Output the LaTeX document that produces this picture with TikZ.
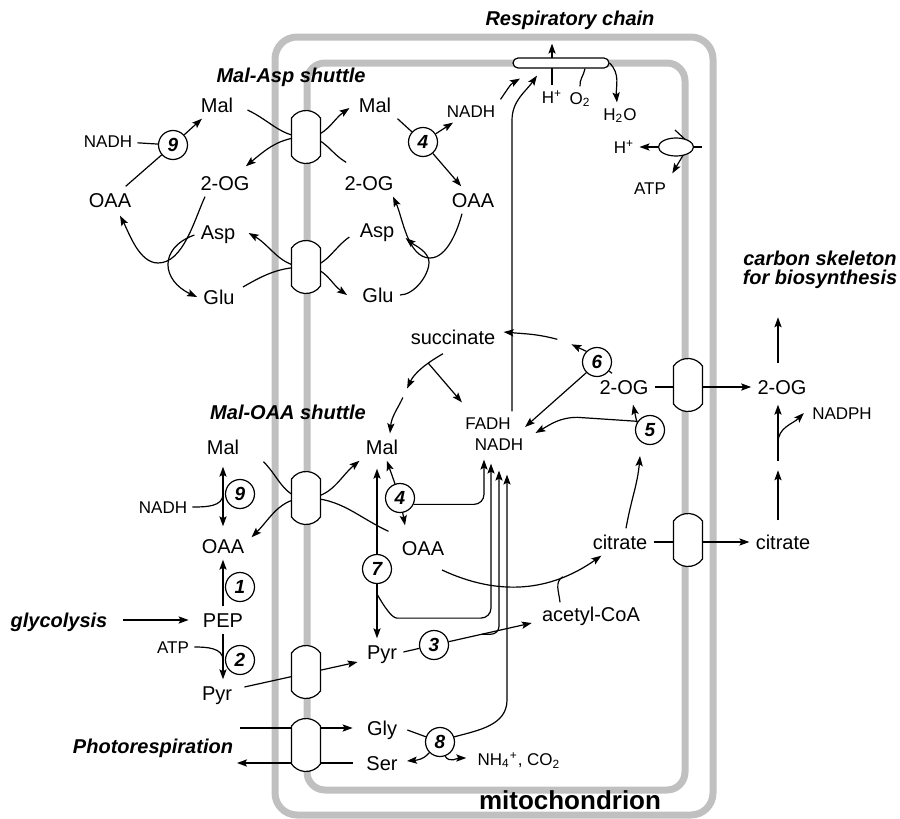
\documentclass[tikz,border=0pt]{standalone}
\usepackage{fontspec}
\setmainfont{Liberation Sans}
\usepackage{tikz}
\usetikzlibrary{arrows.meta,shapes.geometric,shapes.misc,backgrounds}
\definecolor{MembraneGray}{RGB}{192,192,192}

\tikzset{
  capline/.style={text height=7.3pt,text depth=0pt},
  metab/.style={capline,inner sep=3pt,font=\fontsize{10}{12}\selectfont},
  cofac/.style={text height=6.2pt,text depth=0pt,inner sep=2.5pt,font=\fontsize{8.5}{10}\selectfont},
  heading/.style={inner sep=1pt,font=\fontsize{10}{9.5}\selectfont\bfseries\itshape},
  enzyme/.style={circle,draw,fill=white,line width=0.6pt,minimum size=14.5pt,inner sep=0pt,
    font=\fontsize{9.5}{10}\selectfont\bfseries\itshape},
  carrier/.style={rounded rectangle,rounded rectangle arc length=110,rotate=90,draw,fill=white,
    line width=0.6pt,minimum width=26.5pt,minimum height=14.5pt,inner sep=0pt},
  membrane/.style={draw=MembraneGray,line width=3.5pt},
  flow/.style={line width=0.6pt,-{Stealth[length=5pt,width=3.6pt,inset=1pt]}},
  flowboth/.style={line width=0.6pt,{Stealth[length=5pt,width=3.6pt,inset=1pt]}-{Stealth[length=5pt,width=3.6pt,inset=1pt]}},
  link/.style={line width=0.6pt}
}

\begin{document}
\begin{tikzpicture}[x=0.5pt,y=-0.5pt]
      \useasboundingbox (0,0) rectangle (900,819);

      \node[heading,capline] (respTitle) at (570,18) {Respiratory chain};
      \node[heading,capline] (masTitle) at (291,75) {Mal-Asp shuttle};
      \node[heading,capline] (moaTitle) at (288,412) {Mal-OAA shuttle};
      \node[heading,capline] (glycTitle) at (59,620) {glycolysis};
      \node[heading,capline] (photoTitle) at (153,746) {Photorespiration};
      \node[heading,align=center] (skel) at (820,270) {carbon skeleton\\for biosynthesis};
      \node[inner sep=1pt,anchor=base,font=\fontsize{13}{15}\selectfont\bfseries] (mitoTitle) at (570,809) {mitochondrion};

      \node[metab] (malA) at (217,105) {Mal};
      \node[cofac] (nadhA) at (108,141) {NADH};
      \node[metab] (oaaA) at (110,200) {OAA};
      \node[metab] (ogA) at (225,183) {2-OG};
      \node[metab] (aspA) at (218,232) {Asp};
      \node[metab] (gluA) at (219,297) {Glu};
      \node[enzyme] (e9a) at (173,145) {9};

      \node[metab] (malB) at (375,105) {Mal};
      \node[cofac] (nadhB) at (471,111) {NADH};
      \node[metab] (ogB) at (369,183) {2-OG};
      \node[metab] (oaaB) at (473,200) {OAA};
      \node[metab] (aspB) at (377,230) {Asp};
      \node[metab] (gluB) at (378,295) {Glu};
      \node[enzyme] (e4a) at (423,142) {4};

      \node[rounded rectangle,draw,fill=white,line width=0.6pt,minimum width=48pt,
        minimum height=5pt,inner sep=0pt] (rc) at (561,63) {};
      \node[cofac] (hT) at (552,97) {H\textsuperscript{+}};
      \node[cofac] (o2) at (580,98) {O\textsubscript{2}};
      \node[cofac] (h2o) at (620,114) {H\textsubscript{2}O};
      \node[ellipse,draw,fill=white,line width=0.6pt,minimum width=17.5pt,
        minimum height=9pt,inner sep=0pt] (atps) at (676,147) {};
      \node[cofac] (hA) at (624,147) {H\textsuperscript{+}};
      \node[cofac] (atpA) at (650,188) {ATP};

      \node[metab] (malC) at (223,447) {Mal};
      \node[cofac] (nadhC) at (163,507) {NADH};
      \node[metab] (oaaC) at (223,546) {OAA};
      \node[metab] (pep) at (223,620) {PEP};
      \node[cofac] (atpC) at (173,647) {ATP};
      \node[metab] (pyrC) at (217,693) {Pyr};
      \node[enzyme] (e9b) at (240,494) {9};
      \node[enzyme] (e1) at (240,587) {1};
      \node[enzyme] (e2) at (240,660) {2};

      \node[metab] (succ) at (453,337) {succinate};
      \node[cofac] (fadh) at (488,423) {FADH};
      \node[cofac] (nadhM) at (499,444) {NADH};
      \node[metab] (malM) at (382,447) {Mal};
      \node[metab] (oaaM) at (423,548) {OAA};
      \node[metab] (ogM) at (624,387) {2-OG};
      \node[metab] (citM) at (620,542) {citrate};
      \node[metab] (acoa) at (591,614) {acetyl-CoA};
      \node[metab] (pyrM) at (382,652) {Pyr};
      \node[metab] (gly) at (382,728) {Gly};
      \node[metab] (ser) at (382,763) {Ser};
      \node[cofac] (nh4) at (519,759) {NH\textsubscript{4}\textsuperscript{+}, CO\textsubscript{2}};
      \node[enzyme] (e6) at (597,362) {6};
      \node[enzyme] (e5) at (650,430) {5};
      \node[enzyme] (e4b) at (400,498) {4};
      \node[enzyme] (e7) at (377,569) {7};
      \node[enzyme] (e3) at (434,645) {3};
      \node[enzyme] (e8) at (440,742) {8};

      \node[metab] (ogR) at (782,387) {2-OG};
      \node[metab] (citR) at (783,542) {citrate};
      \node[cofac] (nadph) at (842,413) {NADPH};

      \node[carrier] (tMal) at (306,137) {};
      \node[carrier] (tAsp) at (306,267) {};
      \node[carrier] (tOaa) at (306,498) {};
      \node[carrier] (tPyr) at (306,672) {};
      \node[carrier] (tGly) at (306,745) {};
      \node[carrier] (tOg) at (688,385) {};
      \node[carrier] (tCit) at (688,540) {};

      \coordinate (prIn) at (240,728);
      \coordinate (prOut) at (237,763);
      \coordinate (fum) at (405,393);
      \coordinate (nIn1) at ([shift={(-15,4)}]nadhM.south);
      \coordinate (nIn2) at ([shift={(-8,8)}]nadhM.south);
      \coordinate (nIn3) at ([shift={(0,15)}]nadhM.south);
      \coordinate (nIn4) at ([shift={(8,19)}]nadhM.south);

      \begin{scope}[on background layer]
        \draw[membrane,rounded corners=11pt] (275,37) rectangle (713,815);
        \draw[membrane,rounded corners=9pt] (307,63) rectangle (685,790);

        \draw[link] (nadhA) -- (e9a);
        \draw[link] (oaaA) -- (e9a);
        \draw[flow] (e9a) -- (malA);
        \draw[flow] ([shift={(-20,0)}]ogA.south) to[out=-115,in=0,looseness=0.8] (158,263)
          to[out=180,in=-62,looseness=0.8] ([shift={(10,2)}]oaaA.south);
        \draw[flow] ([shift={(0,3)}]aspA.west) to[out=200,in=155,looseness=1.6] (gluA.west);

        \draw[flow] ([shift={(8,5)}]malA.east) to[out=-25,in=180] (tMal.center)
          to[out=0,in=-145] ([shift={(-3,3)}]malB.west);
        \draw[flow] ([shift={(8,-7)}]ogB.north west) to[out=150,in=0] (tMal.center)
          to[out=180,in=40] ([shift={(-10,-3)}]ogA.north east);
        \draw[flow] ([shift={(-4,7)}]aspB.west) to[out=-145,in=0] (tAsp.center)
          to[out=180,in=-30] ([shift={(7,1)}]aspA.east);
        \draw[flow] ([shift={(2,-10)}]gluA.east) to[out=30,in=180] (tAsp.center)
          to[out=0,in=145] ([shift={(-9,0)}]gluB.west);

        \draw[link] (malB.south east) -- (e4a);
        \draw[flow] (e4a) -- (oaaB);
        \draw[flow] (e4a) -- (nadhB);
        \draw[flow] (nadhB.north east) to[out=55,in=210] ([shift={(-41,10)}]rc.south);
        \draw[flow] ([shift={(-11,0)}]oaaB.south) to[out=-105,in=0,looseness=0.8] (430,258)
          to[out=180,in=-65,looseness=0.8] ([shift={(24,0)}]ogB.south);
        \draw[flow] (gluB.east) to[out=0,in=-90,looseness=0.8] (429,262)
          to[out=90,in=-40,looseness=0.8] ([shift={(5,8)}]aspB.east);

        \draw[flow] (hT.north) -- ([shift={(-9,-25)}]rc.south);
        \draw[link] (o2.north) to[out=95,in=-100] ([shift={(24,0)}]rc.south);
        \draw[flow] (rc.east) to[out=-45,in=95] ([shift={(-3,0)}]h2o.north);
        \draw[flow] ([shift={(-4,0)}]fadh.north east) -- ([shift={(-49,52)}]rc.south)
          to[out=90,in=235] ([shift={(-24,7)}]rc.south);
        \draw[flow] (atps.west) -- (hA.east);
        \draw[link] ([shift={(-1,-17)}]atps.center) -- ([shift={(14,-3)}]atps.center);
        \draw[link] (atps.east) -- ++(8,0);
        \draw[flow] ([shift={(9,5)}]atps.center) -- ([shift={(1,-3)}]atpA.north east);

        \draw[flow] ([shift={(18,1)}]malC.south east) to[out=-45,in=180] (tOaa.center)
          to[out=0,in=-140] (malM.south west);
        \draw[flow] ([shift={(-7,-3)}]oaaM.north west) to[out=155,in=0] (tOaa.center)
          to[out=180,in=45] ([shift={(1,5)}]oaaC.north east);
        \draw[flowboth,shorten <=3pt,shorten >=3pt] (malC.south) -- (oaaC.north);
        \draw[link] (nadhC.east) to[out=0,in=-90] (malC |- e9b);
        \draw[flow] (pep.north) -- (oaaC.south);
        \draw[flow] (pep.south) -- (pep.south |- pyrC.north);
        \draw[link] (atpC.east) to[out=0,in=90] (pep |- e2);
        \draw[flow] ([shift={(13,0)}]glycTitle.east) -- ([shift={(-8,0)}]pep.west);
        \draw[flow] ([shift={(6,-6)}]pyrC.east) -- ([shift={(-3,10)}]pyrM.west);

        \draw[flow] (prIn) -- ([shift={(-8,0)}]gly.west);
        \draw[flow] ([shift={(-7,0)}]ser.west) -- (prOut);
        \draw[link] ([shift={(4,2)}]gly.east) -- (e8);
        \draw[flow] (e8.south west) to[out=-130,in=5] ([shift={(3,-2)}]ser.east);
        \draw[flow] (e8.-70) to[out=-60,in=180] ([shift={(-6,-1)}]nh4.west);
        \draw[flow] (e8.20) to[out=15,in=-90] (nIn4 |- 0,700) -- (nIn4);

        \draw[flow] (e4b) -- (malM);
        \draw[flow] (e4b) -- ([shift={(-18,-9)}]oaaM.north);
        \draw[flow,rounded corners=5pt] (e4b.-25) -| (nIn1);
        \draw[flow,shorten >=4pt] (e7) -- (e7 |- malM.south);
        \draw[flow] (e7) -- (e7 |- pyrM.north);
        \draw[flow,rounded corners=5pt] ([shift={(0,10)}]e7.south) to[out=-60,in=180]
          ([shift={(30,34)}]e7.south) -| (nIn2);
        \draw[link] (pyrM.east) -- (e3);
        \draw[flow] (e3) -- node[pos=0.4,coordinate] (br3) {} ([shift={(-4,9)}]acoa.west);
        \draw[flow,rounded corners=4pt] (br3) -| (nIn3);

        \draw[link] ([shift={(-12,0)}]ogM.north) -- (e6);
        \draw[flow] (e6.north west) -- ++(-15,-7);
        \draw[flow] ([shift={(-29,-12)}]e6.north west) to[out=165,in=-5] ([shift={(2,-5)}]succ.east);
        \draw[flow] (e6.south west) -- ([shift={(9,4)}]fadh.east);
        \draw[flow] ([shift={(6,0)}]citM.north) to[out=80,in=-95] ([shift={(-10,11)}]e5.south);
        \draw[flow] (e5.150) -- ([shift={(9,4)}]ogM.south);
        \draw[flow] (e5.145) -- ([shift={(-60,-4)}]e5.145) to[out=180,in=30] ([shift={(7,-11)}]nadhM.east);

        \draw[flow,shorten >=2.5pt] ([shift={(-10,3)}]succ.south) to[out=-150,in=65]
          node[pos=0.3,coordinate] (brS) {} (fum);
        \draw[flow,shorten <=2.5pt] (fum) to[out=-115,in=85] ([shift={(8,0)}]malM.north);
        \draw[flow] (brS) -- ([shift={(2,-9)}]fadh.north west);

        \draw[flow] ([shift={(19,22)}]oaaM.center) to[out=-25,in=215]
          node[pos=0.75,coordinate] (jAc) {} ([shift={(15,0)}]citM.south west);
        \draw[link] ([shift={(-31,2)}]acoa.north) to[out=95,in=-150] (jAc);

        \draw[flow] (ogM.east) -- (ogR.west);
        \draw[flow] (citM.east) -- (citR.west);
        \draw[flow] ([shift={(-4,-10)}]ogR.north) -- ++(0,-46);
        \draw[flow] ([shift={(-5,-8)}]citR.north) -- ++(0,-50);
        \draw[flow] ([shift={(-4,60)}]ogR.south) -- ([shift={(-4,4)}]ogR.south);
        \draw[flow] ([shift={(-4,42)}]ogR.south) to[out=90,in=-135] ([shift={(-3,0)}]nadph.west);
      \end{scope}
\end{tikzpicture}
\end{document}
